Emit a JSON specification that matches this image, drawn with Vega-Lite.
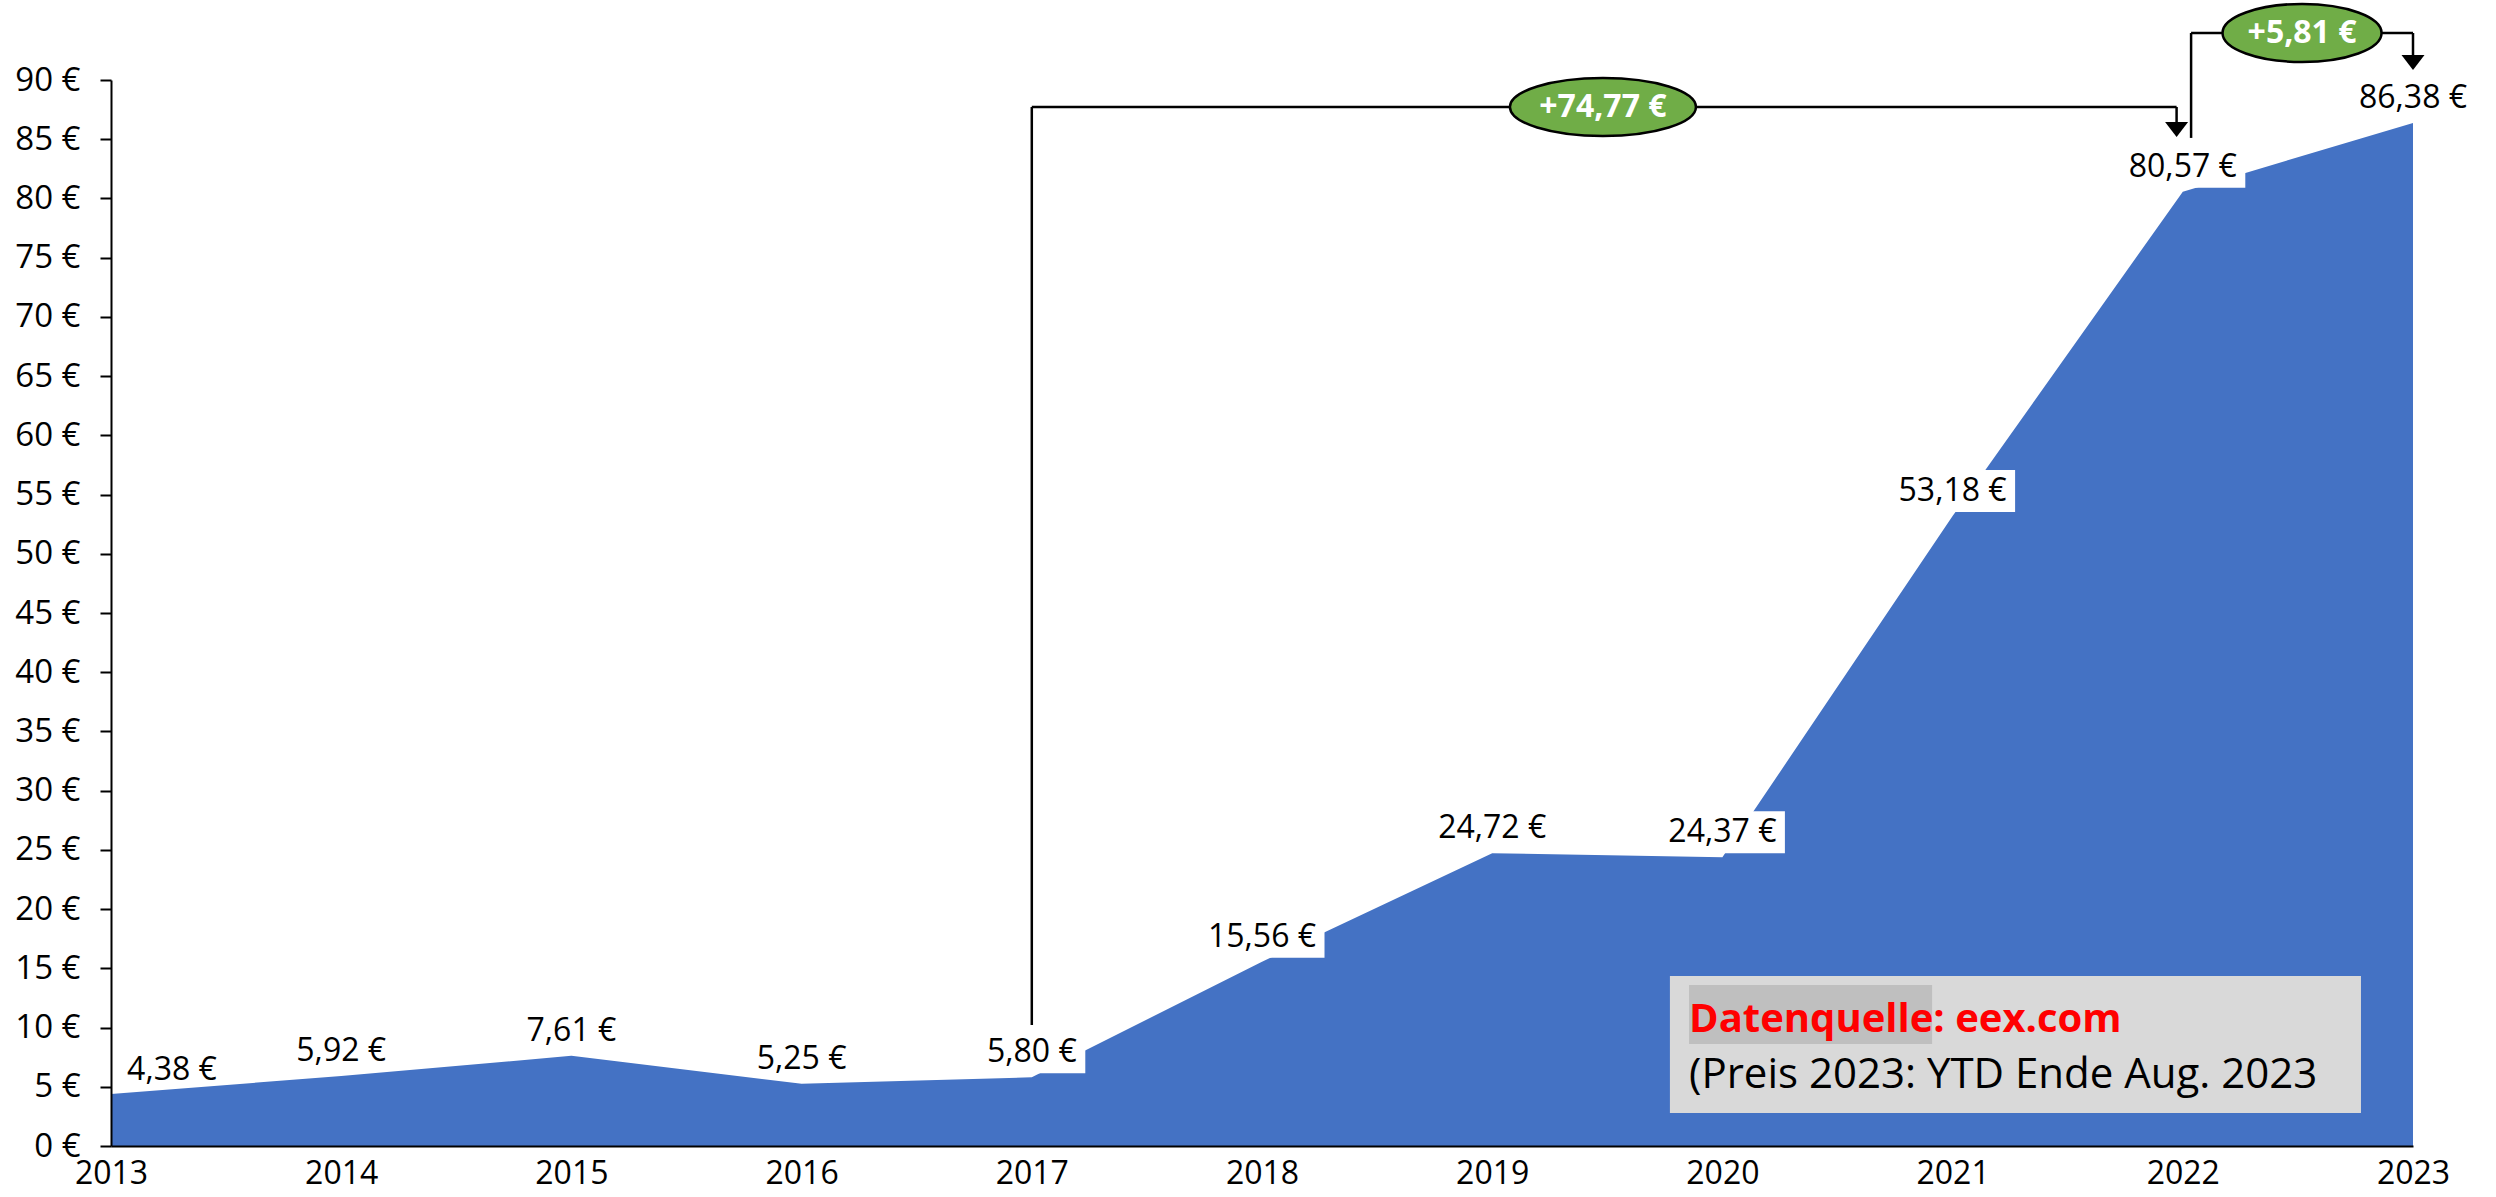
{
  "$schema": "https://vega.github.io/schema/vega-lite/v6.json",
  "width": 2302,
  "height": 1066,
  "autosize": {"type": "none"},
  "padding": {"left": 111, "top": 80, "right": 83, "bottom": 51},
  "background": "white",
  "config": {"font": "Open Sans", "view": {"stroke": null}},
  "datasets": {
    "prices": [
      {"year": 2013, "price": 4.38, "label": "4,38 €"},
      {"year": 2014, "price": 5.92, "label": "5,92 €"},
      {"year": 2015, "price": 7.61, "label": "7,61 €"},
      {"year": 2016, "price": 5.25, "label": "5,25 €"},
      {"year": 2017, "price": 5.80, "label": "5,80 €"},
      {"year": 2018, "price": 15.56, "label": "15,56 €"},
      {"year": 2019, "price": 24.72, "label": "24,72 €"},
      {"year": 2020, "price": 24.37, "label": "24,37 €"},
      {"year": 2021, "price": 53.18, "label": "53,18 €"},
      {"year": 2022, "price": 80.57, "label": "80,57 €"},
      {"year": 2023, "price": 86.38, "label": "86,38 €"}
    ],
    "connectors": [
      {"x": 2017, "y": 10.22, "x2": 2017, "y2": 87.72},
      {"x": 2017, "y": 87.72, "x2": 2021.973, "y2": 87.72},
      {"x": 2021.973, "y": 87.72, "x2": 2021.973, "y2": 86.2},
      {"x": 2022.036, "y": 85.11, "x2": 2022.036, "y2": 93.97},
      {"x": 2022.036, "y": 93.97, "x2": 2023, "y2": 93.97},
      {"x": 2023, "y": 93.97, "x2": 2023, "y2": 91.8}
    ],
    "arrowheads": [
      {"x": 2021.973, "y": 85.19},
      {"x": 2023, "y": 90.85}
    ],
    "changes": [
      {"x": 2019.481, "y": 87.72, "label": "+74,77 €", "wide": "yes"},
      {"x": 2022.518, "y": 93.97, "label": "+5,81 €", "wide": "no"}
    ],
    "notebox": [
      {"x": 2019.772, "x2": 2022.774, "y": 2.79, "y2": 14.35}
    ],
    "highlight": [
      {"x": 2019.855, "x2": 2020.911, "y": 8.61, "y2": 13.59}
    ],
    "notes": [
      {"x": 2019.855, "y": 9.63, "text": "Datenquelle: eex.com", "kind": "source"},
      {"x": 2019.855, "y": 4.90, "text": "(Preis 2023: YTD Ende Aug. 2023", "kind": "note"}
    ]
  },
  "layer": [
    {
      "data": {"name": "prices"},
      "mark": {"type": "area", "color": "#4472C4", "clip": false},
      "encoding": {
        "x": {
          "field": "year", "type": "quantitative",
          "scale": {"domain": [2013, 2023], "nice": false, "zero": false},
          "axis": {
            "values": [2013, 2014, 2015, 2016, 2017, 2018, 2019, 2020, 2021, 2022, 2023],
            "format": "d", "title": null, "labelFontSize": 32, "labelColor": "black",
            "ticks": false, "domainColor": "black", "domainWidth": 2, "labelPadding": 12,
            "grid": false, "labelFlush": false, "labelOverlap": false, "zindex": 1
          }
        },
        "y": {
          "field": "price", "type": "quantitative",
          "scale": {"domain": [0, 90], "nice": false},
          "axis": {
            "values": [0, 5, 10, 15, 20, 25, 30, 35, 40, 45, 50, 55, 60, 65, 70, 75, 80, 85, 90],
            "labelExpr": "datum.value + ' €'", "title": null, "labelFontSize": 33,
            "labelColor": "black", "tickSize": 11, "tickWidth": 2, "tickColor": "black",
            "domainColor": "black", "domainWidth": 2, "labelPadding": 20, "grid": false,
            "labelOverlap": false, "zindex": 1
          }
        }
      }
    },
    {
      "data": {"name": "prices"},
      "transform": [{"filter": "datum.year >= 2017"}],
      "mark": {"type": "point", "filled": true, "fill": "white", "strokeWidth": 0, "opacity": 1, "size": 15625, "yOffset": -25, "clip": false},
      "encoding": {
        "x": {"field": "year", "type": "quantitative"},
        "y": {"field": "price", "type": "quantitative"},
        "shape": {
          "condition": {"test": "datum.price >= 10", "value": "M-1,-0.336L1,-0.336L1,0.336L-1,0.336Z"},
          "value": "M-0.856,-0.336L0.856,-0.336L0.856,0.336L-0.856,0.336Z"
        }
      }
    },
    {
      "data": {"name": "prices"},
      "transform": [{"filter": "datum.year != 2013"}],
      "mark": {"type": "text", "fontSize": 32, "color": "black", "align": "center", "baseline": "middle", "dy": -25, "clip": false},
      "encoding": {
        "x": {"field": "year", "type": "quantitative"},
        "y": {"field": "price", "type": "quantitative"},
        "text": {"field": "label"}
      }
    },
    {
      "data": {"name": "prices"},
      "transform": [{"filter": "datum.year == 2013"}],
      "mark": {"type": "text", "fontSize": 32, "color": "black", "align": "center", "baseline": "middle", "dy": -24, "dx": 61, "clip": false},
      "encoding": {
        "x": {"field": "year", "type": "quantitative"},
        "y": {"field": "price", "type": "quantitative"},
        "text": {"field": "label"}
      }
    },
    {
      "data": {"name": "connectors"},
      "mark": {"type": "rule", "color": "black", "strokeWidth": 2.5, "clip": false},
      "encoding": {
        "x": {"field": "x", "type": "quantitative"},
        "y": {"field": "y", "type": "quantitative"},
        "x2": {"field": "x2"},
        "y2": {"field": "y2"}
      }
    },
    {
      "data": {"name": "arrowheads"},
      "mark": {"type": "point", "filled": true, "fill": "black", "strokeWidth": 0, "opacity": 1, "size": 529, "shape": "M-1,-1.3L1,-1.3L0,0Z", "clip": false},
      "encoding": {
        "x": {"field": "x", "type": "quantitative"},
        "y": {"field": "y", "type": "quantitative"}
      }
    },
    {
      "data": {"name": "changes"},
      "mark": {"type": "point", "filled": true, "fill": "#70AD47", "stroke": "black", "strokeWidth": 2.5, "opacity": 1, "size": 34596, "clip": false},
      "encoding": {
        "x": {"field": "x", "type": "quantitative"},
        "y": {"field": "y", "type": "quantitative"},
        "shape": {
          "condition": {"test": "datum.wide == 'yes'", "value": "M-1,0C-1,-0.1723 -0.5523,-0.312 0,-0.312C0.5523,-0.312 1,-0.1723 1,0C1,0.1723 0.5523,0.312 0,0.312C-0.5523,0.312 -1,0.1723 -1,0Z"},
          "value": "M-0.855,0C-0.855,-0.1723 -0.4722,-0.312 0,-0.312C0.4722,-0.312 0.855,-0.1723 0.855,0C0.855,0.1723 0.4722,0.312 0,0.312C-0.4722,0.312 -0.855,0.1723 -0.855,0Z"
        }
      }
    },
    {
      "data": {"name": "changes"},
      "mark": {"type": "text", "fontSize": 32, "fontWeight": "bold", "color": "white", "align": "center", "baseline": "middle", "clip": false},
      "encoding": {
        "x": {"field": "x", "type": "quantitative"},
        "y": {"field": "y", "type": "quantitative"},
        "text": {"field": "label"}
      }
    },
    {
      "data": {"name": "notebox"},
      "mark": {"type": "rect", "color": "#D9D9D9", "clip": false},
      "encoding": {
        "x": {"field": "x", "type": "quantitative"},
        "x2": {"field": "x2"},
        "y": {"field": "y", "type": "quantitative"},
        "y2": {"field": "y2"}
      }
    },
    {
      "data": {"name": "highlight"},
      "mark": {"type": "rect", "color": "#BFBFBF", "clip": false},
      "encoding": {
        "x": {"field": "x", "type": "quantitative"},
        "x2": {"field": "x2"},
        "y": {"field": "y", "type": "quantitative"},
        "y2": {"field": "y2"}
      }
    },
    {
      "data": {"name": "notes"},
      "transform": [{"filter": "datum.kind == 'source'"}],
      "mark": {"type": "text", "fontSize": 40, "fontWeight": "bold", "color": "#FF0000", "align": "left", "baseline": "alphabetic", "clip": false},
      "encoding": {
        "x": {"field": "x", "type": "quantitative"},
        "y": {"field": "y", "type": "quantitative"},
        "text": {"field": "text"}
      }
    },
    {
      "data": {"name": "notes"},
      "transform": [{"filter": "datum.kind == 'note'"}],
      "mark": {"type": "text", "fontSize": 42, "color": "black", "align": "left", "baseline": "alphabetic", "clip": false},
      "encoding": {
        "x": {"field": "x", "type": "quantitative"},
        "y": {"field": "y", "type": "quantitative"},
        "text": {"field": "text"}
      }
    }
  ]
}
